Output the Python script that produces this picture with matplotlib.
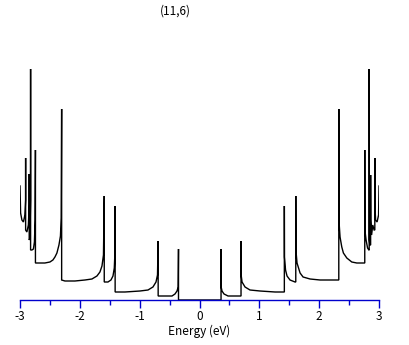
import matplotlib
matplotlib.use("Agg")
import matplotlib.pyplot as plt

plt.rcParams['font.family'] = ['Noto Sans CJK JP', 'DejaVu Sans']
plt.rcParams['axes.unicode_minus'] = False

title = "(11,6)"
xlabel = "Energy (eV)"
xticks = [-3, -2, -1, 0, 1, 2, 3]
xtick_labels = ["-3", "-2", "-1", "0", "1", "2", "3"]
minor_ticks = [-2.5, -1.5, -0.5, 0.5, 1.5, 2.5]

# density of states (energy in eV, DOS in arbitrary units)
energy = [
    -3.000, -2.990, -2.968, -2.943, -2.918, -2.906, -2.906, -2.906,
    -2.885, -2.860, -2.846, -2.846, -2.846, -2.834,
    -2.823, -2.823, -2.823, -2.801, -2.776, -2.759, -2.747, -2.742, -2.742,
    -2.667, -2.584, -2.500, -2.450, -2.416, -2.383, -2.349, -2.324, -2.311,
    -2.304, -2.304,
    -2.249, -2.082, -1.915, -1.798, -1.714, -1.664, -1.630, -1.605,
    -1.592, -1.592,
    -1.530, -1.480, -1.446, -1.424, -1.415, -1.410, -1.410,
    -1.246, -0.995, -0.861, -0.778, -0.727, -0.702, -0.691, -0.691,
    -0.577, -0.460, -0.410, -0.376, -0.356, -0.351, -0.351,
    0.360, 0.360, 0.362,
    0.376, 0.410, 0.477, 0.677, 0.694, 0.694, 0.696,
    0.711, 0.761, 0.844, 1.012, 1.263, 1.418, 1.418, 1.420,
    1.438, 1.463, 1.513, 1.597, 1.609, 1.609, 1.611,
    1.630, 1.681, 1.731, 1.848, 2.015, 2.316, 2.328, 2.328, 2.330,
    2.349, 2.378, 2.405, 2.462, 2.545, 2.629, 2.751, 2.762, 2.762, 2.764,
    2.784, 2.809, 2.831, 2.836, 2.836, 2.838, 2.848, 2.860, 2.860, 2.862,
    2.876, 2.896, 2.918, 2.930, 2.930, 2.932, 2.943, 2.968, 2.993, 3.000,
]
dos = [
    114, 87, 80, 78, 85, 100, 142, 70,
    68, 75, 95, 126, 60, 62,
    100, 231, 50, 50, 51, 58, 80, 150, 37,
    37, 37, 38, 40, 43, 47, 55, 64, 82,
    191, 20,
    19, 19, 20, 21, 24, 28, 34, 45,
    104, 18,
    18, 20, 24, 32, 45, 94, 8,
    8, 9, 10, 13, 18, 25, 59, 4,
    4, 4, 6, 9, 13, 51, 0,
    0, 51, 13,
    9, 6, 4, 4, 4, 59, 25,
    18, 13, 10, 9, 8, 8, 94, 43,
    30, 24, 20, 18, 18, 104, 50,
    37, 27, 23, 21, 20, 20, 20, 191, 80,
    63, 53, 47, 42, 38, 37, 37, 37, 150, 70,
    60, 52, 50, 50, 231, 60, 55, 55, 125, 80,
    65, 75, 70, 70, 142, 95, 80, 78, 85, 114,
]

W, H = 409, 345
fig = plt.figure(figsize=(W / 100, H / 100), dpi=100)
ax = fig.add_axes([20 / W, 45 / H, 359 / W, 280 / H])

ax.plot(energy, dos, color='black', linewidth=1.0, solid_joinstyle='miter')

ax.set_xlim(-3, 3)
ax.set_ylim(0, 280)
for s in ['left', 'right', 'top']:
    ax.spines[s].set_visible(False)
blue = '#0000cc'
ax.spines['bottom'].set_color(blue)
ax.spines['bottom'].set_linewidth(1.0)
ax.set_yticks([])
ax.set_xticks(xticks)
ax.set_xticklabels(xtick_labels)
ax.set_xticks(minor_ticks, minor=True)
ax.tick_params(axis='x', which='major', direction='out', length=5.5, width=1.0,
               color=blue, labelsize=8.5, pad=2.0, labelcolor='black')
ax.tick_params(axis='x', which='minor', direction='out', length=3.5, width=1.0,
               color=blue)
ax.set_xlabel(xlabel, fontsize=8.5, labelpad=1.0)
ax.patch.set_visible(False)

fig.text(175 / W, 1 - 11 / H, title, ha='center', va='center', fontsize=8.5)

fig.savefig('out.png', dpi=100)
